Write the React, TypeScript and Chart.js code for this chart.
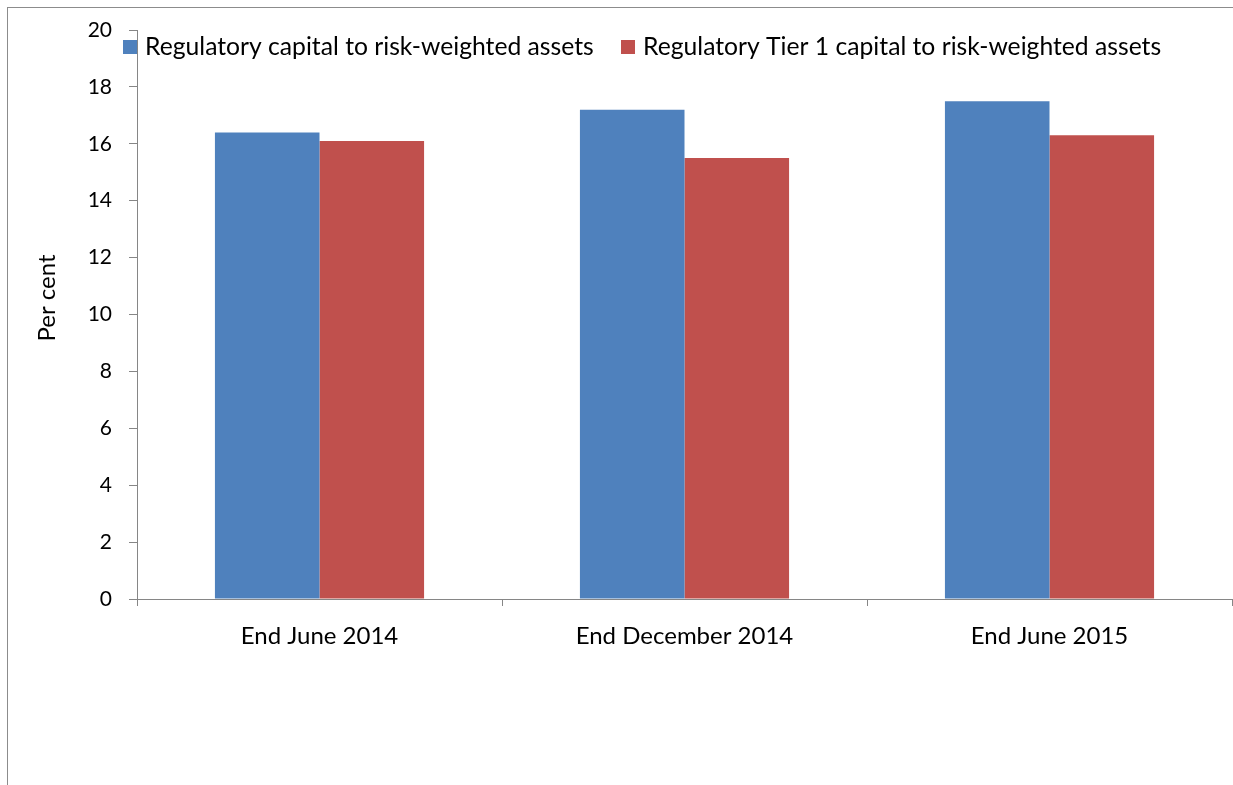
import React, { useEffect, useRef } from "react";
import { Chart, registerables } from "chart.js";

Chart.register(...registerables);

const categories = ["End June 2014", "End December 2014", "End June 2015"];
const totalCapital = [16.4, 17.2, 17.5];
const tier1Capital = [16.1, 15.5, 16.3];
const seriesNames = [
  "Regulatory capital to risk-weighted assets",
  "Regulatory Tier 1 capital to risk-weighted assets",
];
const yTitle = "Per cent";

const FONT = "Lato, 'Open Sans', sans-serif";
const AXIS = "#868686";

const titleAndLegend = {
  id: "titleAndLegend",
  afterDraw(chart: any) {
    const ctx = chart.ctx;
    ctx.save();
    // y-axis title
    ctx.fillStyle = "#000";
    ctx.font = `24px ${FONT}`;
    ctx.textAlign = "center";
    ctx.textBaseline = "middle";
    ctx.translate(39, 290);
    ctx.rotate(-Math.PI / 2);
    ctx.fillText(yTitle, 0, 0);
    ctx.restore();

    ctx.save();
    const items = [
      { x: 115, color: chart.data.datasets[0].backgroundColor, label: chart.data.datasets[0].label },
      { x: 613, color: chart.data.datasets[1].backgroundColor, label: chart.data.datasets[1].label },
    ];
    ctx.font = `24.7px ${FONT}`;
    ctx.textBaseline = "middle";
    ctx.textAlign = "left";
    items.forEach((it) => {
      ctx.fillStyle = it.color;
      ctx.fillRect(it.x, 32, 14, 14);
      ctx.fillStyle = "#000";
      ctx.fillText(it.label, it.x + 22, 39);
    });
    ctx.restore();
  },
};

export default function App() {
  const ref = useRef<HTMLCanvasElement>(null);
  useEffect(() => {
    const chart = new Chart(ref.current!, {
      type: "bar",
      data: {
        labels: categories,
        datasets: [
          { label: seriesNames[0], data: totalCapital, backgroundColor: "#4F81BD" },
          { label: seriesNames[1], data: tier1Capital, backgroundColor: "#C0504D" },
        ],
      },
      options: {
        animation: false,
        responsive: false,
        layout: { padding: { top: 22, right: 1, left: 0, bottom: 0 } },
        datasets: { bar: { categoryPercentage: 0.573, barPercentage: 1 } },
        plugins: { legend: { display: false }, tooltip: { enabled: false } },
        scales: {
          x: {
            grid: {
              drawOnChartArea: false,
              drawTicks: true,
              tickLength: 7,
              color: AXIS,
              offset: true,
            },
            border: { display: true, color: AXIS },
            ticks: { color: "#000", font: { family: FONT, size: 24 }, padding: 16, maxRotation: 0 },
            afterFit: (s: any) => {
              s.height = 179;
              s.paddingLeft = 0;
              s.paddingRight = 0;
            },
          },
          y: {
            min: 0,
            max: 20,
            ticks: { stepSize: 2, color: "#000", font: { family: FONT, size: 21 }, padding: 17 },
            grid: { drawOnChartArea: false, drawTicks: true, tickLength: 8, color: AXIS },
            border: { display: true, color: AXIS },
            afterFit: (s: any) => {
              s.width = 129;
              s.paddingTop = 0;
              s.paddingBottom = 0;
            },
          },
        },
      },
      plugins: [titleAndLegend],
    });
    return () => chart.destroy();
  }, []);
  return (
    <div
      style={{
        position: "absolute",
        left: 7,
        top: 7,
        width: 1226,
        height: 778,
        borderLeft: "1px solid #8c8c8c",
        borderTop: "1px solid #8c8c8c",
        boxSizing: "border-box",
      }}
    >
      <canvas ref={ref} width={1225} height={770} style={{ display: "block" }} />
    </div>
  );
}
